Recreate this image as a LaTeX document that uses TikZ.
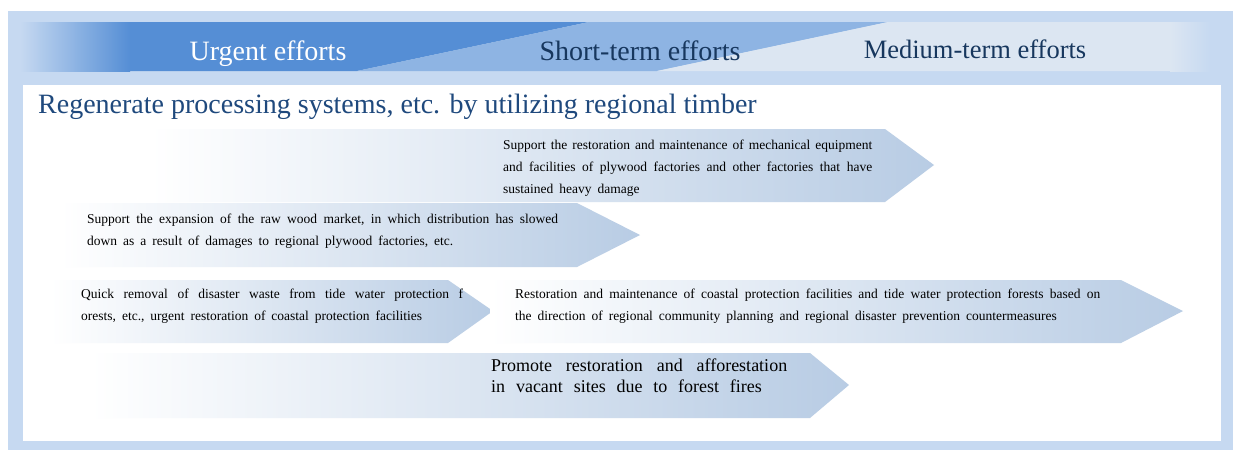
\documentclass[tikz,border=0pt]{standalone}
\usepackage{fontspec}
\setmainfont{Liberation Serif}
\usetikzlibrary{positioning}

\definecolor{framebg}{RGB}{198,217,241}
\definecolor{darkband}{RGB}{85,142,213}
\definecolor{midband}{RGB}{142,180,227}
\definecolor{lightband}{RGB}{220,230,242}
\definecolor{arrowblue}{RGB}{184,204,228}
\definecolor{titlenavy}{RGB}{31,73,125}
\definecolor{headnavy}{RGB}{23,55,94}

% wide word spacing, as in the source layout
\newcommand\widesp[1]{\spaceskip=#1em plus 0.5em minus 0.1em\relax}

\tikzset{
  chevron/.style={left color=white,right color=arrowblue},
  headtext/.style={anchor=base,inner sep=0pt,font=\fontsize{28}{32}\selectfont},
  smalltext/.style={anchor=north west,inner sep=0pt,align=justify,
    font=\fontsize{13.5}{22}\selectfont\widesp{0.44}},
}

\begin{document}
\begin{tikzpicture}[x=1pt,y=-1pt]
  \useasboundingbox (0,0) rectangle (1235,451);

  % Frame and panel
  \fill[framebg] (8,11) rectangle (1233,450);
  \fill[white] (23,85) rectangle (1221,441);

  % Header band
  \shade[left color=framebg,right color=darkband] (20,22) rectangle (130,71);
  \fill[darkband] (130,22) -- (589,22) -- (357,71) -- (130,71) -- cycle;
  \fill[midband] (589,22) -- (888,22) -- (657,71) -- (357,71) -- cycle;
  \fill[lightband] (888,22) -- (1170,22) -- (1170,71) -- (657,71) -- cycle;
  \shade[left color=lightband,right color=framebg] (1170,22) rectangle (1210,71);

  \node[headtext,text=white] (urgent) at (268,60) {Urgent efforts};
  \node[headtext,text=headnavy] (short) at (640,60) {Short-term efforts};
  \node[headtext,text=headnavy,font=\fontsize{26.5}{30}\selectfont] (medium) at (975,58) {Medium-term efforts};

  % Title
  \node[anchor=base west,inner sep=0pt,text=titlenavy,font=\fontsize{28}{32}\selectfont]
    (title) at (38,113) {Regenerate processing systems, etc. by utilizing regional timber};

  % Arrows
  \shade[chevron] (150,129) -- (885,129) -- (934,165) -- (885,202) -- (150,202) -- cycle;
  \shade[chevron] (60,203) -- (577,203) -- (640,235) -- (577,267) -- (60,267) -- cycle;
  \shade[chevron] (50,280) -- (448,280) -- (493,311) -- (448,343) -- (50,343) -- cycle;
  \shade[chevron] (490,280) -- (1121,280) -- (1183,311) -- (1121,343) -- (490,343) -- cycle;
  \shade[chevron] (90,353) -- (810,353) -- (849,385) -- (810,418) -- (90,418) -- cycle;

  % Texts
  \node[smalltext,text width=369pt] (plywood) at (503,140)
    {Support the restoration and maintenance of mechanical equipment\linebreak
     and facilities of plywood factories and other factories that have\linebreak
     sustained heavy damage};
  \node[smalltext,text width=471pt] (market) at (87,214)
    {Support the expansion of the raw wood market, in which distribution has slowed\linebreak
     down as a result of damages to regional plywood factories, etc.};
  \node[smalltext,text width=382pt] (removal) at (81,289)
    {Quick removal of disaster waste from tide water protection f\linebreak
     orests, etc., urgent restoration of coastal protection facilities};
  \node[smalltext,text width=585pt] (coastal) at (515,289)
    {Restoration and maintenance of coastal protection facilities and tide water protection forests based on\linebreak
     the direction of regional community planning and regional disaster prevention countermeasures};
  \node[smalltext,text width=296pt,font=\fontsize{18}{21}\selectfont\widesp{0.6}] (afforest) at (491,359)
    {Promote restoration and afforestation\linebreak
     in vacant sites due to forest fires};
\end{tikzpicture}
\end{document}
